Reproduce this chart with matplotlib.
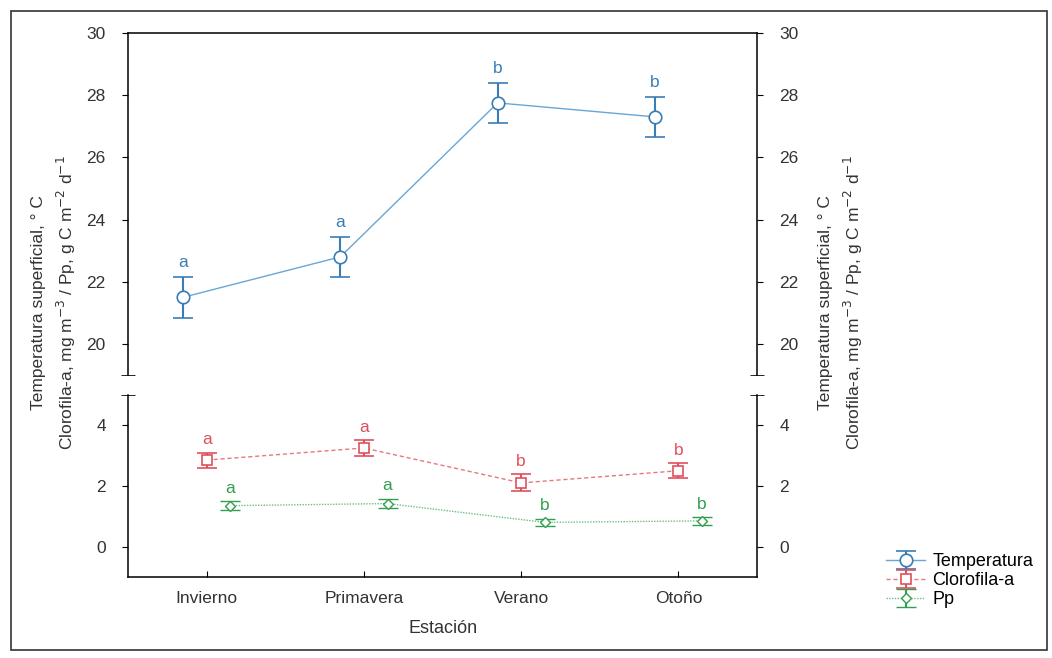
import numpy as np
import matplotlib
matplotlib.use("Agg")
import matplotlib.pyplot as plt
from matplotlib.patches import Rectangle
from matplotlib.ticker import FixedLocator

plt.rcParams["font.family"] = ["Liberation Sans", "DejaVu Sans"]

# data
estaciones = ["Invierno", "Primavera", "Verano", "Otoño"]
temp = [21.5, 22.8, 27.75, 27.3]
temp_err = [0.65, 0.65, 0.65, 0.65]
temp_letras = ["a", "a", "b", "b"]
clorofila = [2.85, 3.25, 2.1, 2.5]
clorofila_err = [0.25, 0.25, 0.28, 0.25]
clorofila_letras = ["a", "a", "b", "b"]
pp = [1.35, 1.42, 0.8, 0.85]
pp_err = [0.15, 0.15, 0.12, 0.12]
pp_letras = ["a", "a", "b", "b"]

c_temp = "#3a7db5"
c_clo = "#e0505c"
c_pp = "#30a050"

fig = plt.figure(figsize=(10.52, 6.58), dpi=100)
left, width = 0.1217, 0.598
ax_top = fig.add_axes([left, 0.430, width, 0.520])
ax_bot = fig.add_axes([left, 0.123, width, 0.277])

x = np.arange(len(estaciones))
off = 0.15

# Temperatura (upper part)
eb_t = ax_top.errorbar(x - off, temp, yerr=temp_err, color="#6aa6d4", ecolor=c_temp,
                       lw=1.0, marker="o", ms=9, mfc="white", mec=c_temp, mew=1.2,
                       elinewidth=1.5, capsize=7, capthick=1.5)
for xi, yi, e, l in zip(x - off, temp, temp_err, temp_letras):
    ax_top.annotate(l, (xi, yi + e), xytext=(0, 5), textcoords="offset points",
                    ha="center", va="bottom", color=c_temp, fontsize=12.5)

# Clorofila-a and Pp (lower part)
eb_c = ax_bot.errorbar(x, clorofila, yerr=clorofila_err, color="#e67880", ecolor=c_clo,
                       lw=1.0, ls=(0, (3, 2)), marker="s", ms=7, mfc="white", mec=c_clo,
                       mew=1.2, elinewidth=1.5, capsize=7, capthick=1.5)
eb_p = ax_bot.errorbar(x + off, pp, yerr=pp_err, color="#6cc084", ecolor=c_pp,
                       lw=1.0, ls=(0, (1, 1)), marker="D", ms=5, mfc="white", mec=c_pp,
                       mew=1.0, elinewidth=1.5, capsize=7, capthick=1.5)
for xi, yi, e, l in zip(x, clorofila, clorofila_err, clorofila_letras):
    ax_bot.annotate(l, (xi, yi + e), xytext=(0, 4), textcoords="offset points",
                    ha="center", va="bottom", color=c_clo, fontsize=12.5)
for xi, yi, e, l in zip(x + off, pp, pp_err, pp_letras):
    ax_bot.annotate(l, (xi, yi + e), xytext=(0, 4), textcoords="offset points",
                    ha="center", va="bottom", color=c_pp, fontsize=12.5)

for ax in (ax_top, ax_bot):
    ax.set_xlim(-0.5, 3.5)
    ax.tick_params(axis="y", direction="out", length=4, left=True, right=True,
                   labelleft=True, labelright=True, labelsize=12.5, pad=12,
                   labelcolor="#333333")
    ax.tick_params(axis="y", which="minor", direction="inout", length=10,
                   left=True, right=True, labelleft=False, labelright=False)
    for s in ax.spines.values():
        s.set_linewidth(1.1)

ax_top.set_ylim(19, 30)
ax_top.set_yticks([20, 22, 24, 26, 28, 30])
ax_top.yaxis.set_minor_locator(FixedLocator([19]))
ax_top.spines["bottom"].set_visible(False)
ax_top.set_xticks([])

ax_bot.set_ylim(-1, 5)
ax_bot.set_yticks([0, 2, 4])
ax_bot.yaxis.set_minor_locator(FixedLocator([5]))
ax_bot.spines["top"].set_visible(False)
ax_bot.set_xticks(x)
ax_bot.set_xticklabels(estaciones)
ax_bot.tick_params(axis="x", direction="in", length=4, labelsize=12.5, pad=10,
                   labelcolor="#333333")
ax_bot.set_xlabel("Estación", fontsize=13, labelpad=10, color="#333333")

ylab = "Temperatura superficial, ° C\nClorofila-a, mg m$^{-3}$ / Pp, g C m$^{-2}$ d$^{-1}$"
fig.text(0.052, 0.54, ylab, rotation=90, ha="center", va="center",
         fontsize=12.5, linespacing=1.5, color="#333333")
fig.text(0.800, 0.54, ylab, rotation=90, ha="center", va="center",
         fontsize=12.5, linespacing=1.5, color="#333333")

fig.legend([eb_t, eb_c, eb_p], ["Temperatura", "Clorofila-a", "Pp"],
           loc="upper left", bbox_to_anchor=(0.835, 0.17), frameon=False,
           fontsize=13, handlelength=2.2, handletextpad=0.4,
           labelspacing=0.1, borderaxespad=0)

fig.patches.append(Rectangle((0.01, 0.012), 0.985, 0.972, transform=fig.transFigure,
                             fill=False, lw=1.2, ec="#333333"))

fig.savefig("out.png", dpi=100)
